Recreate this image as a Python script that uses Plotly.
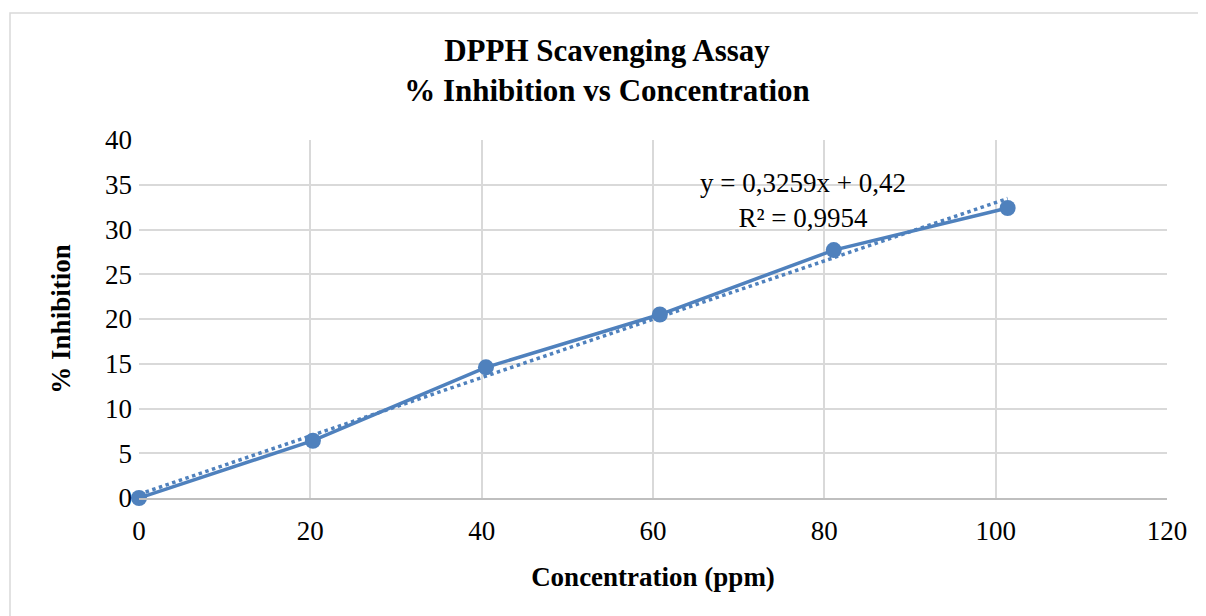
import plotly.graph_objects as go

concentration = [0, 20.3, 40.5, 60.8, 81.1, 101.4]
inhibition = [0, 6.4, 14.6, 20.5, 27.7, 32.4]
slope = 0.3259
intercept = 0.42
equation_text = "y = 0,3259x + 0,42<br>R² = 0,9954"
x_ticks = [0, 20, 40, 60, 80, 100, 120]
y_ticks = [0, 5, 10, 15, 20, 25, 30, 35, 40]

blue = "#4F81BD"
font = "Liberation Serif, Times New Roman, serif"

trend_x = [min(concentration), max(concentration)]
trend_y = [slope * v + intercept for v in trend_x]

# page body has an 8px offset
W, H = 1198, 608
L, T = 131, 132
PW, PH = 1028, 358

fig = go.Figure()
fig.add_trace(go.Scatter(x=trend_x, y=trend_y, mode="lines",
                         line=dict(color=blue, width=3.5, dash="dot"),
                         showlegend=False, hoverinfo="skip", cliponaxis=False))
fig.add_trace(go.Scatter(x=concentration, y=inhibition, mode="lines+markers",
                         line=dict(color=blue, width=3.5),
                         marker=dict(color=blue, size=16),
                         showlegend=False, cliponaxis=False))

fig.add_annotation(x=77.5, y=33.2, xref="x", yref="y", text=equation_text,
                   showarrow=False, font=dict(family=font, size=27, color="#000"),
                   align="center")

fig.add_shape(type="rect", xref="paper", yref="paper",
              x0=(2 - L) / PW, x1=(1215 - L) / PW,
              y0=(T + PH - 625) / PH, y1=(T + PH - 5) / PH,
              line=dict(color="#d9d9d9", width=1.5), layer="below")

fig.update_layout(
    width=W, height=H,
    margin=dict(l=L, r=W - L - PW, t=T, b=H - T - PH),
    paper_bgcolor="white", plot_bgcolor="white",
    font=dict(family=font, color="#000"),
    title=dict(text="<b>DPPH Scavenging Assay<br>% Inhibition vs Concentration</b>",
               x=0.5, xanchor="center", y=1 - 53 / H, yanchor="middle",
               font=dict(family=font, size=31, color="#000")),
    xaxis=dict(range=[0, 120], tickvals=x_ticks, showgrid=True, gridcolor="#d9d9d9",
               gridwidth=1.5, zeroline=False, showline=True, linecolor="#bfbfbf",
               linewidth=1.5, ticks="", tickfont=dict(family=font, size=27),
               ticklabelstandoff=8,
               title=dict(text="<b>Concentration (ppm)</b>", standoff=22,
                          font=dict(family=font, size=27))),
    yaxis=dict(range=[0, 40], tickvals=y_ticks, showgrid=True, gridcolor="#d9d9d9",
               gridwidth=1.5, zeroline=False, showline=False, ticks="",
               tickfont=dict(family=font, size=27), ticklabelstandoff=6,
               title=dict(text="<b>% Inhibition</b>", standoff=26,
                          font=dict(family=font, size=27))),
)

fig.write_html("out.html")
